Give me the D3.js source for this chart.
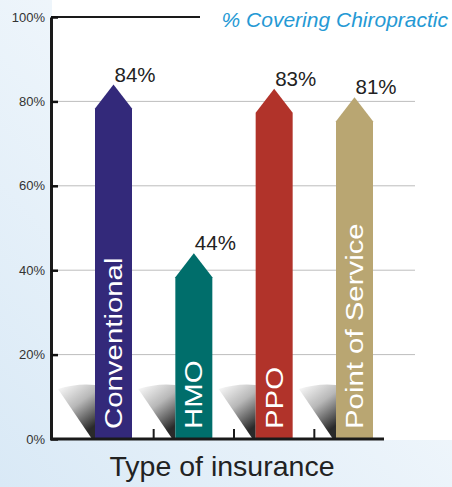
<!DOCTYPE html>
<html>
<head>
<meta charset="utf-8">
<script src="https://cdn.jsdelivr.net/npm/d3@7"></script>
<style>
  body { margin: 0; }
  svg { display: block; font-family: "Liberation Sans", Arial, sans-serif; }
</style>
</head>
<body>
<svg id="chart" width="452" height="487"></svg>
<script>
// data
const categories = ['Conventional', 'HMO', 'PPO', 'Point of Service'];
const covering = [84, 44, 83, 81];
const barColours = ['#33297a', '#006e6b', '#b1332a', '#b9a672'];
const yTicks = [0, 20, 40, 60, 80, 100];

const svg = d3.select('#chart');
const W = 452, H = 487;
const barW = 37;      // width of each arrow bar
const headH = 24;     // height of the arrow head

const y = d3.scaleLinear().domain([0, 100]).range([439, 17]);
const x = d3.scalePoint().domain(categories).range([113.5, 354.5]);

const defs = svg.append('defs');
const bg = defs.append('linearGradient').attr('id', 'bg')
  .attr('x1', 1).attr('y1', 0).attr('x2', 0).attr('y2', 1);
bg.append('stop').attr('offset', 0).attr('stop-color', '#ffffff');
bg.append('stop').attr('offset', 1).attr('stop-color', '#d9e9f6');

const shade = defs.append('linearGradient').attr('id', 'shade')
  .attr('x1', 0).attr('y1', 0).attr('x2', 0.5).attr('y2', 1);
shade.append('stop').attr('offset', 0).attr('stop-color', '#ffffff');
shade.append('stop').attr('offset', 0.5).attr('stop-color', '#b8b8b8');
shade.append('stop').attr('offset', 1).attr('stop-color', '#2a2a2a');

// background + white plot panel
svg.append('rect').attr('width', W).attr('height', H).attr('fill', 'url(#bg)');
svg.append('rect').attr('x', 52).attr('y', 0).attr('width', W - 52).attr('height', 440)
  .attr('fill', '#ffffff');

// grid lines
svg.append('g').selectAll('line')
  .data(yTicks.filter(d => d > 0 && d < 100))
  .join('line')
  .attr('x1', 58).attr('x2', 415)
  .attr('y1', d => y(d)).attr('y2', d => y(d))
  .attr('stroke', '#bdbdbd').attr('stroke-width', 1);

// top line at 100%
svg.append('line')
  .attr('x1', 51).attr('x2', 200)
  .attr('y1', y(100)).attr('y2', y(100))
  .attr('stroke', '#1a1a1a').attr('stroke-width', 2);

// shadows left of each bar
svg.append('g').selectAll('path')
  .data(categories)
  .join('path')
  .attr('d', c => {
    const x0 = x(c) - barW / 2;
    const top = y(0) - 53;
    return `M${x0 - 37},${top + 3} Q${x0 - 18},${top - 3} ${x0},${top - 1} L${x0},${y(0)} L${x0 - 3},${y(0)} Z`;
  })
  .attr('fill', 'url(#shade)');

// arrow bars
const bars = svg.append('g').selectAll('g')
  .data(categories.map((c, i) => ({ c, v: covering[i], col: barColours[i] })))
  .join('g');

bars.append('path')
  .attr('d', d => {
    const l = x(d.c) - barW / 2, r = x(d.c) + barW / 2, tip = y(d.v);
    return `M${l},${y(0)} L${l},${tip + headH} L${x(d.c)},${tip} L${r},${tip + headH} L${r},${y(0)} Z`;
  })
  .attr('fill', d => d.col);

// category names inside bars
bars.append('text')
  .attr('transform', d => `translate(${x(d.c)},${y(0) - 10}) rotate(-90) scale(1.25,1)`)
  .attr('dy', '0.36em')
  .attr('fill', '#ffffff')
  .attr('font-size', 23.5)
  .text(d => d.c);

// value labels
bars.append('text')
  .attr('x', d => x(d.c) + 1)
  .attr('y', d => y(d.v) - 3)
  .attr('fill', '#222')
  .attr('font-size', 20.5)
  .text(d => d.v + '%');

// y axis
const yAxis = d3.axisLeft(y)
  .tickValues(yTicks)
  .tickFormat(d => d + '%')
  .tickSize(-7)
  .tickSizeOuter(0)
  .tickPadding(6);

const ga = svg.append('g').attr('transform', 'translate(51,0)').call(yAxis);
ga.select('.domain').attr('stroke', '#1a1a1a').attr('stroke-width', 3);
ga.selectAll('.tick line').attr('stroke', '#111').attr('stroke-width', 2.5);
ga.selectAll('.tick text')
  .attr('fill', '#333')
  .attr('font-size', 13)
  .attr('font-family', '"Liberation Sans", Arial, sans-serif');

// x axis baseline and separator ticks
svg.append('line')
  .attr('x1', 50).attr('x2', 384)
  .attr('y1', y(0)).attr('y2', y(0))
  .attr('stroke', '#1a1a1a').attr('stroke-width', 3);

const mids = categories.slice(1).map((c, i) => (x(c) + x(categories[i])) / 2);
svg.append('g').selectAll('line')
  .data(mids)
  .join('line')
  .attr('x1', d => d).attr('x2', d => d)
  .attr('y1', y(0)).attr('y2', y(0) - 10)
  .attr('stroke', '#1a1a1a').attr('stroke-width', 2);

// titles
svg.append('text')
  .attr('x', 448).attr('y', 27)
  .attr('text-anchor', 'end')
  .attr('font-style', 'italic')
  .attr('font-size', 21)
  .attr('fill', '#2599d4')
  .text('% Covering Chiropractic');

svg.append('text')
  .attr('x', 222).attr('y', 476)
  .attr('text-anchor', 'middle')
  .attr('font-size', 28.5)
  .attr('fill', '#222')
  .text('Type of insurance');
</script>
</body>
</html>
